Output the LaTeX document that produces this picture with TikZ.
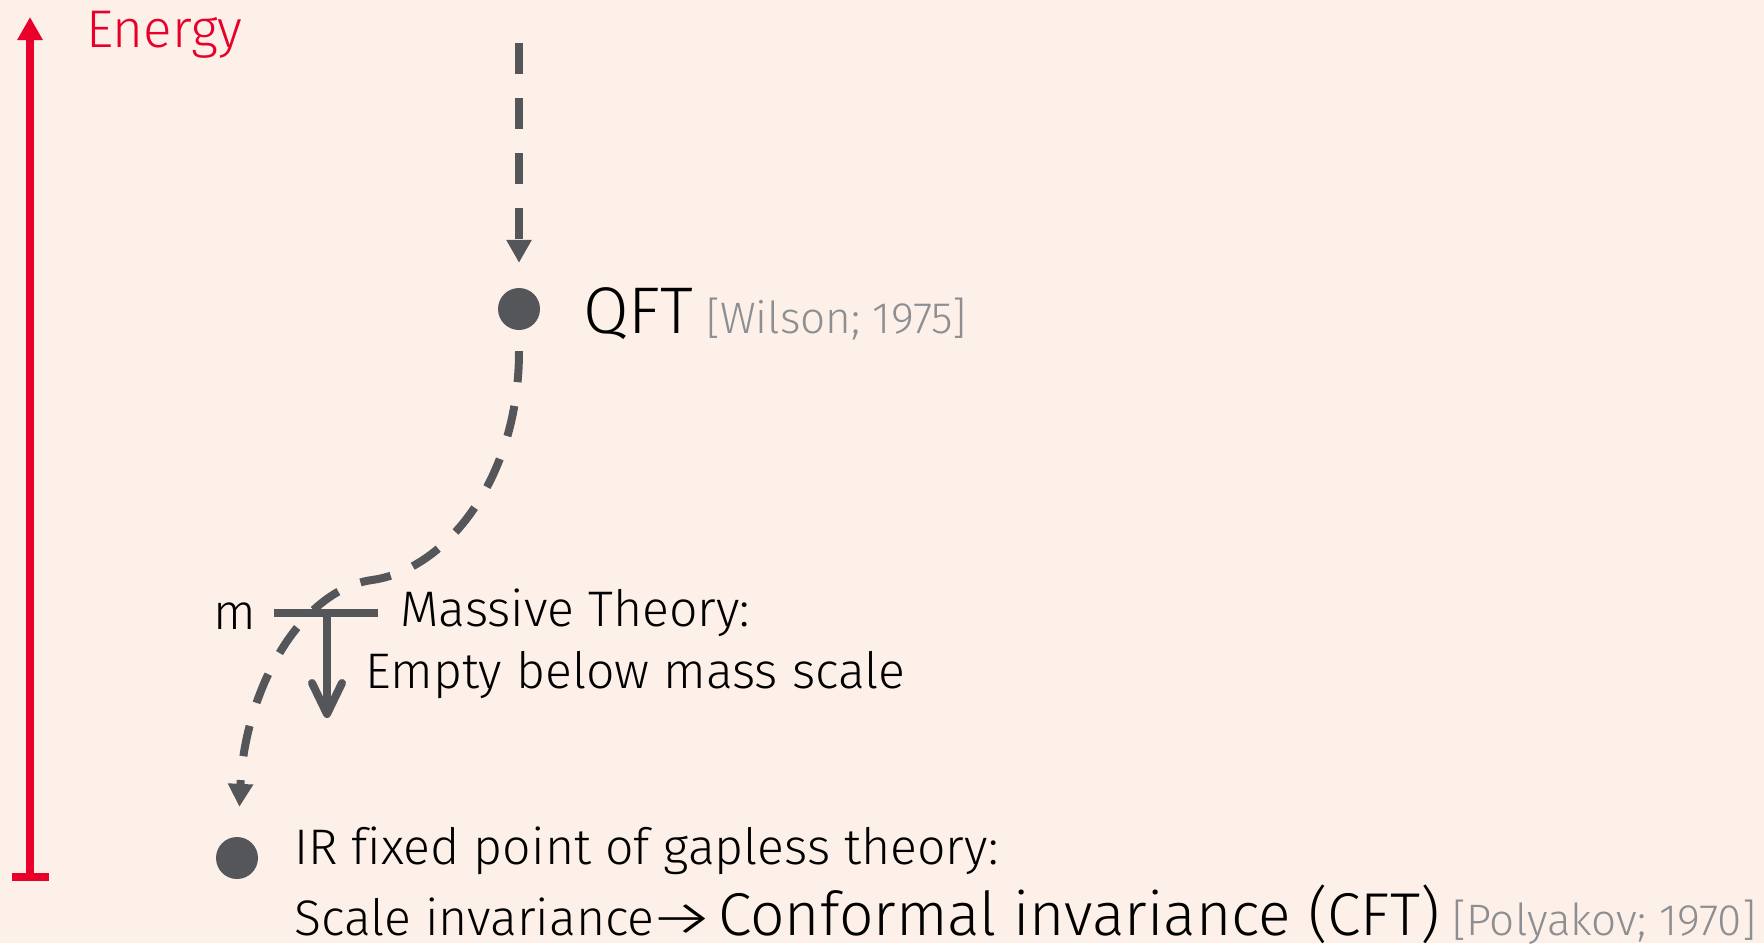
\documentclass[tikz,border=0pt]{standalone}
\usepackage{fontspec}
\setmainfont{Fira Sans}[UprightFont={* Light}, Ligatures=NoCommon]
\usetikzlibrary{arrows.meta}
\definecolor{bgc}{HTML}{FDF0E8}
\definecolor{linec}{HTML}{55565A}
\definecolor{redc}{HTML}{E8002A}
\definecolor{citec}{HTML}{8C8E92}
\tikzset{
  txt/.style={inner sep=0pt, anchor=base west, text=black},
  cite/.style={inner sep=0pt, anchor=base west, text=citec, font=\fontsize{44}{50}\selectfont},
  main/.style={font=\fontsize{50}{60}\selectfont},
  dotnode/.style={circle, fill=linec, draw=none, minimum size=42pt, inner sep=0pt},
  flowline/.style={draw=linec, line width=8pt, dash pattern=on 31pt off 24pt},
  flowtip/.style={-{Triangle[width=24pt,length=23pt]}},
  barline/.style={draw=linec, line width=8pt},
  energyline/.style={draw=redc, line width=8pt, {Bar[width=37pt]}-{Triangle[width=24pt,length=23pt]}}
}
\begin{document}
\begin{tikzpicture}[x=1pt,y=-1pt]
\fill[bgc] (0,0) rectangle (1764,943);
\useasboundingbox (0,0) rectangle (1764,943);

% energy axis
\coordinate (ebot) at (30,881);
\coordinate (etop) at (30,17);
\draw[energyline] (ebot) -- (etop);
\node[txt, text=redc, font=\fontsize{53}{60}\selectfont] (energy) at (86,47) {Energy};

% QFT
\node[dotnode] (qft) at (519,309) {};
\coordinate (top) at (519,43);
\draw[flowline, flowtip, shorten >=25pt] (top) -- (qft);
\node[txt, font=\fontsize{66}{72}\selectfont] (qftlabel) at (583,333) {QFT};
\node[cite] (wilson) at (706,333) {[Wilson; 1975]};

% IR fixed point
\node[dotnode] (ir) at (237,858) {};
\coordinate (mid) at (372,580);
\draw[flowline, flowtip, shorten <=21pt, shorten >=30pt]
  (qft) .. controls (519,480) and (445,570) .. (mid)
        .. controls (300,590) and (245,690) .. (ir);

% mass scale
\coordinate (mL) at (274,613);
\coordinate (mR) at (378,613);
\coordinate (mT) at (327,613);
\coordinate (mB) at (327,718);
\draw[barline] (mL) -- (mR);
\draw[barline, -{Straight Barb[length=31pt,width=30pt,round]}] (mT) -- (mB);
\node[txt, main] (mlabel) at (213,629) {m};
\node[txt, main] (massive) at (400,626) {Massive Theory:};
\node[txt, main] (empty) at (365,688) {Empty below mass scale};

% IR text
\node[txt, main] (irlabel) at (294,864) {IR fixed point of gapless theory:};
\node[txt, main] (scale) at (294,935) {Scale invariance};
\node[txt, main] (arrowsym) at (648,935) {\scalebox{1.5}[1]{→}};
\node[txt, font=\fontsize{60.5}{70}\selectfont] (conf) at (718,935) {Conformal invariance (CFT)};
\node[cite] (poly) at (1452,935) {[Polyakov; 1970]};
\end{tikzpicture}
\end{document}
